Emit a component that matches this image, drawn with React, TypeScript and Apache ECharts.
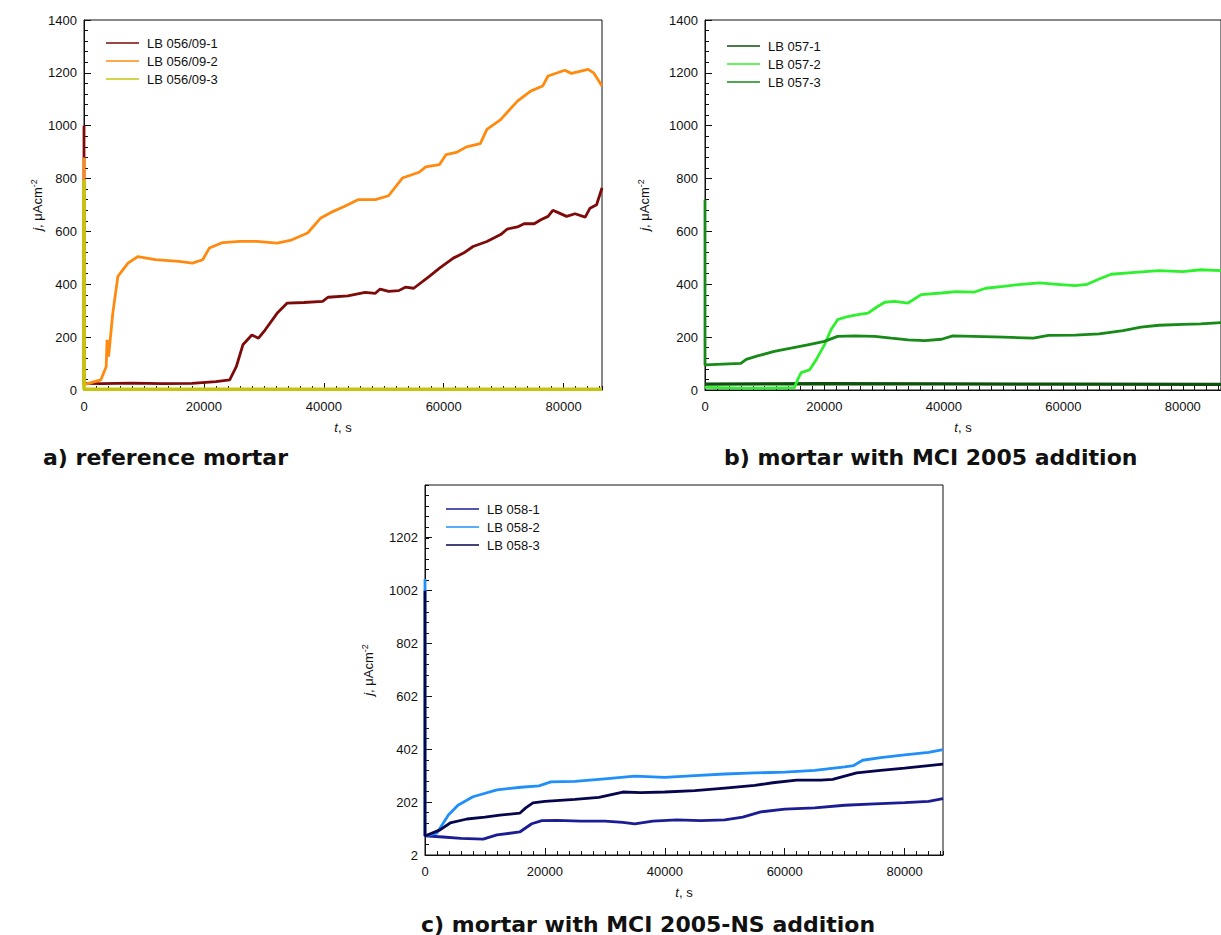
import React, { useEffect, useRef } from "react";
import * as echarts from "echarts";

// ---------- Data ----------
const xMajorTicks = [0, 20000, 40000, 60000, 80000];
const yMajorTicksAB = [0, 200, 400, 600, 800, 1000, 1200, 1400];
const yMajorTicksC = [2, 202, 402, 602, 802, 1002, 1202];

const namesA = ["LB 056/09-1", "LB 056/09-2", "LB 056/09-3"];
const namesB = ["LB 057-1", "LB 057-2", "LB 057-3"];
const namesC = ["LB 058-1", "LB 058-2", "LB 058-3"];

// Panel a
const a1T = [0, 0, 3000, 8000, 13000, 18000, 22000, 24300, 25400, 26500, 28000, 29100, 30200, 32200, 33900, 36700, 39800, 40700, 44000, 46900, 48600, 49400, 50800, 52500, 53600, 55000, 57600, 59300, 61600, 63300, 64900, 67200, 69500, 70600, 72300, 73400, 75100, 76200, 77400, 78200, 79000, 80500, 81900, 83600, 84400, 85500, 86400];
const a1V = [1000, 25, 24, 26, 24, 25, 32, 38, 88, 171, 208, 196, 227, 290, 329, 331, 335, 351, 356, 369, 366, 382, 373, 376, 389, 385, 430, 461, 499, 518, 543, 562, 588, 609, 617, 629, 629, 644, 657, 680, 672, 657, 667, 654, 688, 701, 765];
const a2T = [0, 0, 1500, 2800, 3700, 3850, 4100, 4800, 5650, 7340, 9000, 11900, 15800, 18100, 19800, 20900, 23150, 26000, 28800, 32200, 34400, 37300, 39500, 41200, 43500, 45700, 48600, 50800, 53100, 55900, 57000, 59300, 60400, 62100, 63800, 66100, 67200, 69500, 70600, 72300, 74500, 76500, 77400, 80200, 81300, 84100, 85000, 86400];
const a2V = [880, 20, 30, 38, 88, 190, 126, 290, 430, 480, 505, 493, 487, 480, 493, 537, 558, 562, 562, 556, 566, 594, 651, 672, 695, 720, 720, 735, 802, 824, 844, 853, 891, 899, 920, 932, 986, 1023, 1051, 1093, 1131, 1150, 1188, 1210, 1198, 1213, 1200, 1150];
const a3T = [0, 0, 20000, 40000, 60000, 86400];
const a3V = [795, 3, 3, 3, 3, 3];

// Panel b
const b1T = [0, 20000, 40000, 60000, 86400];
const b1V = [22, 24, 23, 22, 21];
const b2T = [0, 5000, 10000, 14970, 15500, 16100, 17500, 18600, 20000, 21100, 22200, 23900, 25600, 27300, 28900, 30100, 31700, 34000, 36200, 39600, 42000, 45000, 47000, 50000, 53000, 56000, 59000, 62000, 64000, 66000, 68000, 72000, 76000, 80000, 83000, 86400];
const b2V = [10, 8, 7, 9, 38, 66, 76, 114, 171, 228, 266, 278, 285, 291, 316, 332, 335, 329, 361, 367, 372, 370, 385, 392, 400, 405, 400, 395, 400, 420, 438, 445, 452, 448, 455, 452];
const b3T = [0, 0, 3000, 6000, 6900, 8800, 11600, 14400, 17200, 20000, 22200, 25000, 28400, 31200, 34000, 36800, 39600, 41500, 45000, 50000, 55000, 57500, 62000, 66000, 70000, 73000, 76000, 80000, 83000, 86400];
const b3V = [720, 95, 98, 101, 116, 129, 146, 158, 171, 184, 203, 205, 203, 196, 190, 187, 192, 205, 203, 200, 196, 207, 208, 212, 225, 238, 245, 248, 250, 255];

// Panel c
const c1T = [0, 3000, 6000, 9700, 12000, 15800, 17800, 19500, 22000, 26000, 30000, 33000, 35000, 38000, 42000, 46000, 50000, 53000, 56000, 60000, 65000, 70000, 75000, 80000, 84000, 86400];
const c1V = [74, 70, 65, 62, 78, 89, 120, 132, 133, 130, 130, 125, 120, 130, 135, 132, 135, 145, 165, 175, 180, 190, 195, 200, 205, 215];
const c2T = [0, 0, 2000, 3900, 5500, 8000, 12000, 16000, 19000, 21000, 25000, 30000, 35000, 40000, 45000, 50000, 55000, 60000, 65000, 70000, 71500, 73000, 76000, 80000, 84000, 86400];
const c2V = [1045, 74, 85, 153, 190, 222, 248, 258, 263, 278, 280, 290, 300, 295, 302, 308, 312, 315, 322, 335, 340, 360, 370, 380, 390, 400];
const c3T = [0, 0, 2500, 4200, 7000, 10000, 12500, 15800, 16800, 18000, 20000, 25000, 29000, 33000, 36000, 40000, 45000, 50000, 55000, 58000, 62000, 66000, 68000, 70000, 72000, 76000, 80000, 84000, 86400];
const c3V = [1000, 74, 97, 123, 138, 145, 153, 160, 180, 199, 205, 212, 220, 240, 238, 240, 245, 255, 265, 275, 285, 285, 288, 300, 312, 322, 330, 340, 345];

const colorsA = ["#7e0a0a", "#ff8a10", "#c6c410"];
const colorsB = ["#0c500c", "#2ef02e", "#178a17"];
const colorsC = ["#1c1c94", "#2090f8", "#06064f"];

const captions = ["a) reference mortar", "b) mortar with MCI 2005 addition", "c) mortar with MCI 2005-NS addition"];

// ---------- helpers ----------
const zip = (t: number[], v: number[]) => t.map((x, i) => [x, v[i]]);

const FONT = "Liberation Sans, Arial, sans-serif";
const AXIS_COLOR = "#111";
const plain = (v: number) => String(v);

const grids = [
  { left: 84, top: 20, width: 518, height: 370 },
  { left: 705, top: 20, width: 518, height: 370 },
  { left: 425, top: 485, width: 518, height: 370 },
];

function mainX(gi: number) {
  return {
    type: "value", gridIndex: gi, position: "bottom", min: 0, max: 86400,
    name: "{i|t}, s", nameLocation: "middle", nameGap: 31,
    nameTextStyle: { fontSize: 13, color: "#111", fontFamily: FONT, rich: { i: { fontStyle: "italic", fontSize: 13, fontFamily: FONT, color: "#111" } } },
    axisLine: { show: true, lineStyle: { color: AXIS_COLOR, width: 1 } },
    axisTick: { show: true, inside: true, length: 7, customValues: xMajorTicks, lineStyle: { color: AXIS_COLOR, width: 1 } },
    axisLabel: { show: true, customValues: xMajorTicks, formatter: plain, fontSize: 13, color: "#111", fontFamily: FONT, margin: 10 },
    splitLine: { show: false },
  };
}
function minorX(gi: number) {
  return {
    type: "value", gridIndex: gi, position: "bottom", min: 0, max: 86400, interval: 2000,
    axisLine: { show: false },
    axisTick: { show: true, inside: true, length: 4, lineStyle: { color: AXIS_COLOR, width: 1 } },
    axisLabel: { show: false },
    splitLine: { show: false },
  };
}
function mainY(gi: number, min: number, ticks: number[], gap: number) {
  return {
    type: "value", gridIndex: gi, position: "left", min, max: 1400,
    name: "{i|j}, μAcm{s|-2}", nameLocation: "middle", nameGap: gap,
    nameTextStyle: {
      fontSize: 13, color: "#111", fontFamily: FONT,
      rich: {
        i: { fontStyle: "italic", fontSize: 13, fontFamily: FONT, color: "#111" },
        s: { fontSize: 9, fontFamily: FONT, color: "#111", padding: [0, 0, 8, 0] },
      },
    },
    axisLine: { show: true, lineStyle: { color: AXIS_COLOR, width: 1 } },
    axisTick: { show: true, inside: true, length: 7, customValues: ticks, lineStyle: { color: AXIS_COLOR, width: 1 } },
    axisLabel: { show: true, customValues: ticks, formatter: plain, fontSize: 13, color: "#111", fontFamily: FONT, margin: 7 },
    splitLine: { show: false },
  };
}
function minorY(gi: number, min: number) {
  return {
    type: "value", gridIndex: gi, position: "left", min, max: 1400, interval: 40,
    axisLine: { show: false },
    axisTick: { show: true, inside: true, length: 4, lineStyle: { color: AXIS_COLOR, width: 1 } },
    axisLabel: { show: false },
    splitLine: { show: false },
  };
}

function mkSeries(name: string, color: string, axisIdx: number, data: number[][], width = 2.8) {
  return {
    type: "line", name, xAxisIndex: axisIdx, yAxisIndex: axisIdx, data,
    showSymbol: false, symbol: "none", clip: true,
    lineStyle: { color, width }, itemStyle: { color },
  };
}

function mkLegend(names: string[], left: number, top: number) {
  return {
    orient: "vertical", left, top, padding: 0, itemGap: 0, itemWidth: 33, itemHeight: 1.4,
    icon: "rect", selectedMode: false,
    data: names,
    textStyle: { fontSize: 13, color: "#111", fontFamily: FONT, lineHeight: 18, padding: [0, 0, 0, 3] },
  };
}

export default function App() {
  const ref = useRef<HTMLDivElement>(null);
  useEffect(() => {
    if (!ref.current) return;
    const chart = echarts.init(ref.current, undefined, { renderer: "svg" });
    const option = {
      animation: false,
      backgroundColor: "#fff",
      grid: grids.map((g) => ({ ...g, show: true, borderColor: AXIS_COLOR, borderWidth: 1, backgroundColor: "transparent", containLabel: false })),
      xAxis: [mainX(0), minorX(0), mainX(1), minorX(1), mainX(2), minorX(2)],
      yAxis: [
        mainY(0, 0, yMajorTicksAB, 36), minorY(0, 0),
        mainY(1, 0, yMajorTicksAB, 52), minorY(1, 0),
        mainY(2, 2, yMajorTicksC, 48), minorY(2, 0),
      ],
      legend: [
        mkLegend(namesA, 106, 34),
        mkLegend(namesB, 727, 37),
        mkLegend(namesC, 446, 500),
      ],
      series: [
        mkSeries(namesA[0], colorsA[0], 0, zip(a1T, a1V)),
        mkSeries(namesA[1], colorsA[1], 0, zip(a2T, a2V)),
        mkSeries(namesA[2], colorsA[2], 0, zip(a3T, a3V), 3.6),
        mkSeries(namesB[0], colorsB[0], 2, zip(b1T, b1V), 3.2),
        mkSeries(namesB[1], colorsB[1], 2, zip(b2T, b2V)),
        mkSeries(namesB[2], colorsB[2], 2, zip(b3T, b3V)),
        mkSeries(namesC[0], colorsC[0], 4, zip(c1T, c1V)),
        mkSeries(namesC[1], colorsC[1], 4, zip(c2T, c2V)),
        mkSeries(namesC[2], colorsC[2], 4, zip(c3T, c3V)),
      ],
      graphic: [
        { type: "text", left: 43, top: 446, style: { text: captions[0], font: "bold 22px 'DejaVu Sans'", fill: "#111" } },
        { type: "text", left: 724, top: 446, style: { text: captions[1], font: "bold 22px 'DejaVu Sans'", fill: "#111" } },
        { type: "text", left: 421, top: 913, style: { text: captions[2], font: "bold 22px 'DejaVu Sans'", fill: "#111" } },
      ],
    };
    chart.setOption(option as any);
    return () => chart.dispose();
  }, []);
  return (
    <div
      ref={ref}
      style={{ position: "absolute", left: 0, top: 0, width: 1221, height: 935, background: "#fff" }}
    />
  );
}
